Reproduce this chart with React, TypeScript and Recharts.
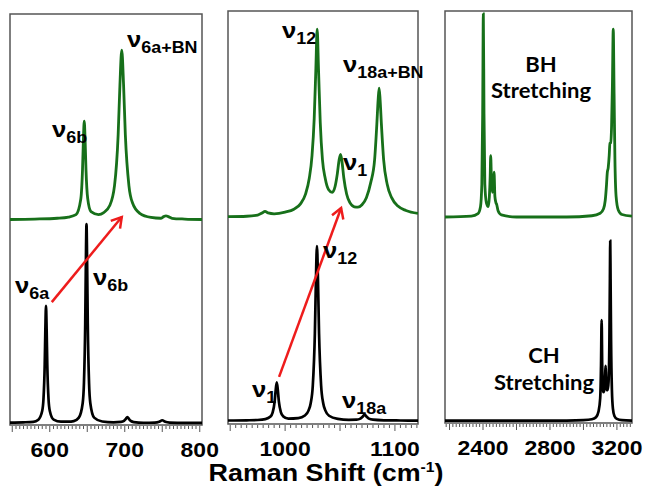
import { LineChart, Line, XAxis, YAxis, ReferenceArea, ReferenceLine } from 'recharts';

// ring-mode region (cm-1) and intensities (a.u., green curve offset by ~50)
const ringShiftBlack = [547, 565, 578, 584.8, 589.9, 591.6, 593.3, 594.15, 595, 595.85, 596.7, 598.4, 600.1, 605.2, 615, 625, 632, 638.8, 643.9, 645.6, 647.3, 648.15, 649, 649.85, 650.7, 652.4, 654.1, 659.2, 670, 685, 695, 699, 701.5, 703.5, 705.5, 708, 712, 725, 740, 746, 750, 754, 760, 780, 803];
const ringIntBlack = [0.6, 0.65, 0.75, 1.3, 3.4, 6.2, 14.8, 23.3, 29.0, 23.3, 14.8, 6.2, 3.4, 1.3, 0.8, 0.8, 0.95, 1.8, 5.3, 10.2, 24.7, 39.2, 48.9, 39.2, 24.7, 10.2, 5.3, 1.8, 0.85, 0.65, 0.75, 1.0, 1.5, 1.95, 1.5, 1.0, 0.7, 0.55, 0.6, 0.8, 1.15, 0.8, 0.6, 0.5, 0.5];
const ringShiftGreen = [547, 580, 610, 625, 635, 641.4, 643.7, 644.85, 646, 647.15, 648.3, 650.6, 655, 665, 672, 680, 686.4, 691.2, 693.6, 696, 698.4, 700.8, 705.6, 710.4, 720, 735, 748, 752, 755, 758, 763, 780, 803];
const ringIntGreen = [50.0, 50.1, 50.3, 50.6, 51.2, 55.0, 62.2, 69.3, 73.9, 69.3, 62.2, 55.1, 51.9, 51.2, 51.7, 53.4, 58.3, 70.6, 82.9, 91.2, 82.9, 70.6, 58.2, 54.0, 51.5, 50.5, 50.3, 50.7, 50.9, 50.7, 50.3, 50.1, 50.0];

const breathShiftBlack = [948, 965, 975, 982, 986.7, 988.6, 990.5, 991.45, 992.4, 993.35, 994.3, 996.2, 998.1, 1003, 1012, 1018, 1021.4, 1023.3, 1025.2, 1027.1, 1028.05, 1029, 1029.95, 1030.9, 1032.8, 1034.7, 1036.6, 1040, 1048, 1058, 1065, 1068.5, 1070.5, 1072.4, 1074.3, 1076.3, 1080, 1090, 1105, 1121];
const breathIntBlack = [0.85, 0.9, 0.97, 1.17, 1.8, 2.75, 5.5, 8.25, 10.1, 8.25, 5.5, 2.8, 1.9, 1.3, 1.42, 2.06, 3.3, 5.03, 9.26, 21.95, 34.64, 43.1, 34.64, 21.95, 9.26, 5.03, 3.3, 2.0, 1.25, 1.02, 1.05, 1.3, 1.75, 2.25, 1.75, 1.3, 1.05, 0.9, 0.85, 0.82];
const breathShiftGreen = [948, 965, 975, 979, 981.7, 984.5, 990, 1000, 1008, 1014, 1018.5, 1022, 1024.5, 1026.5, 1028, 1029.2, 1030.4, 1032, 1034, 1036.5, 1039.5, 1042.9, 1045.5, 1047.5, 1049.2, 1050.5, 1051.8, 1053.5, 1056, 1059, 1063, 1066.3, 1070, 1074, 1078, 1081.5, 1083.5, 1084.7, 1085.6, 1086.5, 1087.7, 1089.7, 1093, 1097, 1103, 1110, 1121];
const breathIntGreen = [50.2, 50.3, 50.6, 51.1, 51.5, 51.1, 50.9, 51.3, 52.0, 53.3, 55.6, 59.5, 65, 74, 86, 95.6, 86, 73, 64, 59.5, 56.8, 56.1, 57.5, 60.5, 64, 65.3, 63.5, 59.5, 55.7, 53.6, 52.6, 52.5, 53.1, 54.8, 58.5, 64, 72.5, 78.5, 81.3, 78.5, 72.5, 64, 58, 54.8, 52.7, 51.7, 51.0];

const stretchShiftBlack = [2173, 2600, 2900, 3000, 3050, 3075, 3090, 3100, 3105, 3108.6, 3112, 3116, 3120, 3126, 3130, 3132.5, 3135, 3140, 3145, 3150, 3155, 3158, 3160, 3162, 3165, 3170, 3176, 3185, 3200, 3230, 3290];
const stretchIntBlack = [0.56, 0.56, 0.6, 0.7, 0.9, 1.4, 2.8, 6, 14, 25, 14, 8, 7.5, 8.5, 12, 13.9, 11, 8, 8, 10, 20, 35, 44.2, 35, 20, 8, 3.5, 1.7, 1.0, 0.7, 0.6];
const stretchShiftGreen = [2173, 2330, 2370, 2385, 2393, 2398, 2402, 2406, 2411, 2420, 2432, 2438, 2443, 2446, 2451, 2457, 2462, 2466, 2471, 2477, 2482, 2490, 2510, 2600, 2900, 3050, 3100, 3120, 3130, 3138, 3142, 3148, 3154, 3158, 3163, 3168, 3173, 3178, 3183, 3188, 3195, 3208, 3230, 3290];
const stretchIntGreen = [50.0, 50.2, 50.8, 52.5, 58, 75, 99.3, 75, 58, 53.5, 52.5, 55, 60, 64.9, 58, 56, 58, 60.9, 55, 53.5, 53, 51.5, 50.5, 50.0, 50.0, 50.3, 50.9, 52, 54, 58, 60.6, 62, 65, 67.9, 68, 72, 82, 95.6, 80, 64, 55, 51.7, 50.6, 50.2];

const ringLabels = [600, 700, 800];
const breathLabels = [1000, 1100];
const stretchLabels = [2400, 2800, 3200];

const ringArrow = [{ x: 602.7, y: 29.9 }, { x: 696, y: 50.6 }];
const breathArrow = [{ x: 994.5, y: 11.4 }, { x: 1051, y: 52.3 }];

const GREEN = '#17701a';
const RED = '#ee1c1c';
const FONT = '"Liberation Sans", Arial, sans-serif';
const SX = 1.12;
const PAD = 24;

const zip = (xs: number[], ys: number[]) => xs.map((x, i) => ({ x, y: ys[i] }));
const steps = (a: number, b: number, s: number) => {
    const out: number[] = [];
    for (let v = a; v <= b; v += s) out.push(v);
    return out;
};

function Arrow(props: any) {
    const { x1, y1, x2, y2 } = props;
    const dx = x2 - x1, dy = y2 - y1;
    const len = Math.hypot(dx, dy);
    const ux = dx / len, uy = dy / len;
    const bx = x2 - ux * 10, by = y2 - uy * 10;
    return (
        <g>
            <line x1={x1} y1={y1} x2={x2} y2={y2} stroke={RED} strokeWidth={2.5} />
            <polyline
                points={`${bx - uy * 6},${by + ux * 6} ${x2},${y2} ${bx + uy * 6},${by - ux * 6}`}
                fill="none" stroke={RED} strokeWidth={2.5}
            />
        </g>
    );
}

function Panel({ left, top, width, height, domain, ticks, labels, mids, black, green, arrow }: any) {
    const renderTick = (p: any) => {
        const v = p.payload.value;
        const major = labels.includes(v);
        const len = major || mids.includes(v) ? 6 : 3;
        return (
            <g>
                <line x1={p.x} x2={p.x} y1={p.y + 1} y2={p.y + 1 + len} stroke="#555" strokeWidth={1} />
                {major && (
                    <g transform={`translate(${p.x},${p.y + 32}) scale(${SX},1)`}>
                        <text textAnchor="middle" fontFamily={FONT} fontWeight="bold" fontSize={20.5} fill="#000">{v}</text>
                    </g>
                )}
            </g>
        );
    };
    return (
        <div style={{ position: 'absolute', left: left - PAD, top: top - 4 }}>
            <LineChart width={width + 2 * PAD} height={height + 49} margin={{ top: 4, right: PAD, left: PAD, bottom: 0 }}>
                <XAxis type="number" dataKey="x" domain={domain} allowDataOverflow ticks={ticks} interval={0}
                    height={45} axisLine={false} tickLine={false} tickSize={0} tickMargin={0} tick={renderTick} />
                <YAxis hide type="number" domain={[0, 100]} allowDataOverflow />
                <ReferenceArea x1={domain[0]} x2={domain[1]} y1={0} y2={100} fill="none" fillOpacity={0}
                    stroke="#555" strokeWidth={1.5} ifOverflow="visible" />
                <Line data={black} dataKey="y" type="monotone" stroke="#000" strokeWidth={2.7} dot={false} isAnimationActive={false} />
                <Line data={green} dataKey="y" type="monotone" stroke={GREEN} strokeWidth={2.8} dot={false} isAnimationActive={false} />
                {arrow && <ReferenceLine segment={arrow} shape={Arrow} ifOverflow="visible" />}
            </LineChart>
        </div>
    );
}

function Nu({ x, y, sub }: { x: number; y: number; sub: string }) {
    return (
        <g transform={`translate(${x},${y}) scale(${SX},1)`}>
            <text fontFamily={FONT} fontWeight="bold" fill="#000">
                <tspan fontSize={23}>ν</tspan>
                <tspan fontSize={16} dy={6}>{sub}</tspan>
            </text>
        </g>
    );
}

function Caption({ x, y, text }: { x: number; y: number; text: string }) {
    return (
        <g transform={`translate(${x},${y}) scale(1.1,1)`}>
            <text textAnchor="middle" fontFamily="Lato, sans-serif" fontWeight="bold" fontSize={20} fill="#000">{text}</text>
        </g>
    );
}

export default function App() {
    return (
        <div style={{ position: 'absolute', left: 0, top: 0, width: 649, height: 488, background: '#fff' }}>
            <Panel left={10} top={14} width={192} height={411} domain={[547, 803]}
                ticks={steps(550, 800, 5)} labels={ringLabels} mids={[550, 650, 750]}
                black={zip(ringShiftBlack, ringIntBlack)} green={zip(ringShiftGreen, ringIntGreen)} arrow={ringArrow} />
            <Panel left={228} top={11} width={190} height={413} domain={[948, 1121]}
                ticks={steps(950, 1120, 5)} labels={breathLabels} mids={[950, 1050]}
                black={zip(breathShiftBlack, breathIntBlack)} green={zip(breathShiftGreen, breathIntGreen)} arrow={breathArrow} />
            <Panel left={445} top={11} width={187} height={412} domain={[2173, 3290]}
                ticks={steps(2180, 3280, 20)} labels={stretchLabels} mids={[2200, 2600, 3000]}
                black={zip(stretchShiftBlack, stretchIntBlack)} green={zip(stretchShiftGreen, stretchIntGreen)} />
            <svg width={649} height={488} style={{ position: 'absolute', left: 0, top: 0, pointerEvents: 'none' }}>
                <Nu x={127} y={47} sub="6a+BN" />
                <Nu x={52} y={137} sub="6b" />
                <Nu x={15} y={293} sub="6a" />
                <Nu x={93} y={285} sub="6b" />
                <Nu x={282} y={38} sub="12" />
                <Nu x={343} y={72} sub="18a+BN" />
                <Nu x={343} y={170} sub="1" />
                <Nu x={323} y={258} sub="12" />
                <Nu x={252} y={397} sub="1" />
                <Nu x={342} y={408} sub="18a" />
                <Caption x={541} y={72} text="BH" />
                <Caption x={541} y={98} text="Stretching" />
                <Caption x={544} y={363} text="CH" />
                <Caption x={544} y={390} text="Stretching" />
                <g transform={`translate(326,481) scale(${SX},1)`}>
                    <text textAnchor="middle" fontFamily={FONT} fontWeight="bold" fontSize={24} fill="#000">
                        <tspan>Raman Shift (cm</tspan>
                        <tspan fontSize={14} dy={-9}>-1</tspan>
                        <tspan dy={9}>)</tspan>
                    </text>
                </g>
            </svg>
        </div>
    );
}
